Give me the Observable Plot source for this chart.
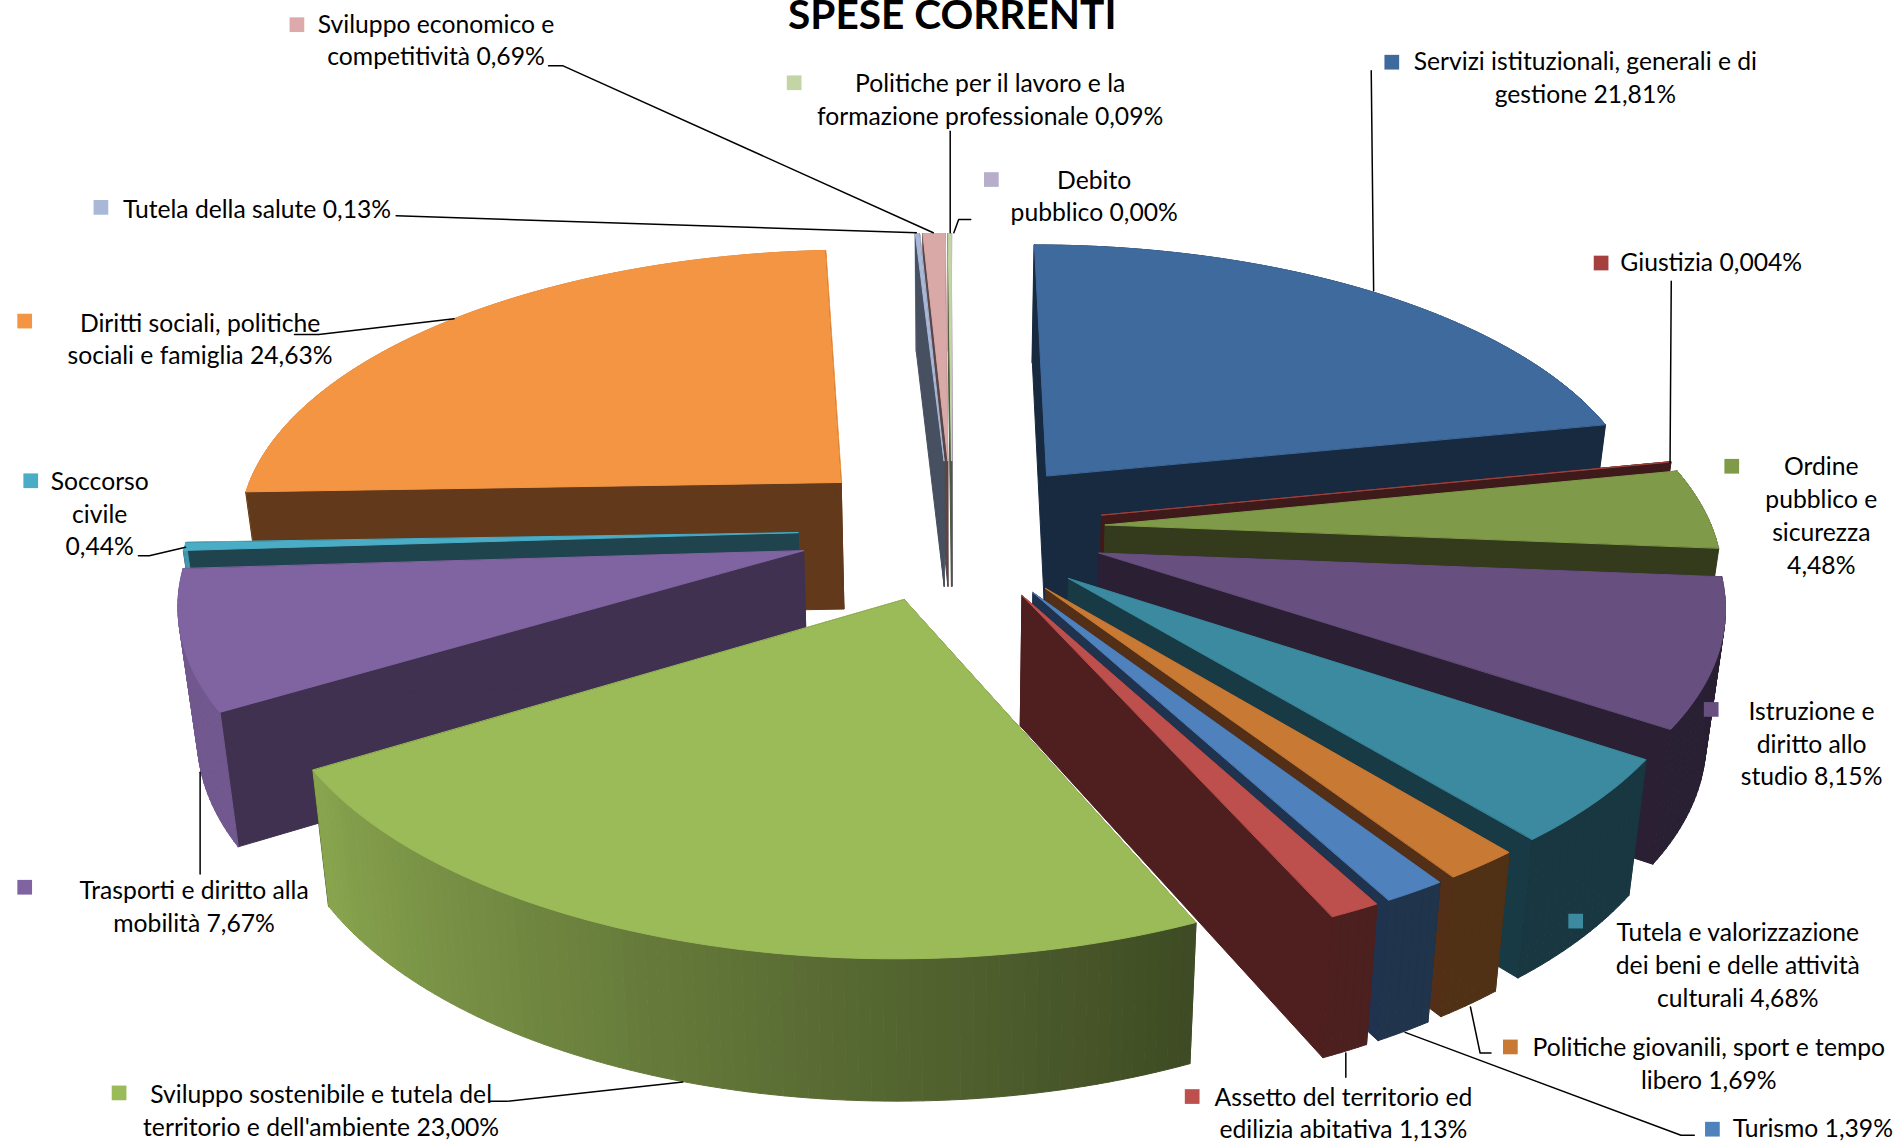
<!DOCTYPE html>
<html lang="it">
<head>
<meta charset="utf-8">
<title>Spese correnti</title>
<script src="https://cdn.jsdelivr.net/npm/d3@7"></script>
<script src="https://cdn.jsdelivr.net/npm/@observablehq/plot@0.6"></script>
<style>
html,body{margin:0;padding:0;background:#fff;overflow:hidden}
svg{display:block}
</style>
</head>
<body>
<div id="chart"></div>
<script>
// ---- data (shares, per cent, clockwise from 12 o'clock)
const categories = ["Servizi istituzionali, generali e di gestione","Giustizia","Ordine pubblico e sicurezza","Istruzione e diritto allo studio","Tutela e valorizzazione dei beni e delle attività culturali","Politiche giovanili, sport e tempo libero","Turismo","Assetto del territorio ed edilizia abitativa","Sviluppo sostenibile e tutela del territorio e dell'ambiente","Trasporti e diritto alla mobilità","Soccorso civile","Diritti sociali, politiche sociali e famiglia","Tutela della salute","Sviluppo economico e competitività","Politiche per il lavoro e la formazione professionale","Debito pubblico"];
const shares = [21.81,0.004,4.48,8.15,4.68,1.69,1.39,1.13,23.00,7.67,0.44,24.63,0.13,0.69,0.09,0.00];
const colors = ["#3f6a9d","#9e413e","#7f9a48","#67507f","#3b8aa0","#c87a35","#4f81bd","#bd4f4d","#9bbb59","#8064a2","#4bacc6","#f39543","#a9b8d6","#d9a9a8","#c3d5a5","#b8aecb"];
const wallColors = ["#182a40","#3e1a1a","#343a1c","#2a1f33","#173a44","#522f16","#1f324e","#4f1e1f","#3f4c22","#403151","#1f444e","#63391c","#475060","#5a4646","#50583f","#4a4650"];
const keyColors = ["#3f6a9d","#a5403e","#7f9a48","#67507f","#3b8aa0","#c87a35","#4f81bd","#bd4f4d","#9bbb59","#8064a2","#4bacc6","#f39543","#a9b8d6","#dcaaaa","#c3d5a5","#b8aecb"];
const labelLines = [
 "Servizi istituzionali, generali e di\ngestione 21,81%","Giustizia 0,004%","Ordine\npubblico e\nsicurezza\n4,48%","Istruzione e\ndiritto allo\nstudio 8,15%",
 "Tutela e valorizzazione\ndei beni e delle attività\nculturali 4,68%","Politiche giovanili, sport e tempo\nlibero 1,69%","Turismo 1,39%","Assetto del territorio ed\nedilizia abitativa 1,13%",
 "Sviluppo sostenibile e tutela del\nterritorio e dell'ambiente 23,00%","Trasporti e diritto alla\nmobilità 7,67%","Soccorso\ncivile\n0,44%","Diritti sociali, politiche\nsociali e famiglia 24,63%",
 "Tutela della salute 0,13%","Sviluppo economico e\ncompetitività 0,69%","Politiche per il lavoro e la\nformazione professionale 0,09%","Debito\npubblico 0,00%"];

// ---- label layout (in the 1568×944 frame of the scales)
const labelX = [1310,1414,1505,1497,1436,1412,1498,1110,265,160,82,165,212,360,818,904];
const labelY = [49,215,384,586,769,864,931,905,903,734,396,265,171,18,67,147];
const keyX = [1150,1323,1431,1414,1302,1248,1415,985,98,20,25,20,83,245,656,819];
const keyY = [51,217,385,586,761,865,933,906,903,733,397,265,171,20,68,148];
const leaders = [
 [[1133,58],[1135,240]],[[1381,232],[1380,382]],[],[],[],
 [[1215,832],[1223,870],[1232,870]],[[1161,853],[1389,938],[1400,938]],[[1112,870],[1112,890]],
 [[405,910],[418,910],[564,894]],[[165,638],[165,722]],[[114,459],[123,459],[153,452]],[[243,276],[263,276],[375,263]],
 [[327,178],[757,192]],[[453,54],[465,54],[771,192]],[[785,108],[785,192]],[[802,181],[792,181],[788,192]]];

// ---- view model of the exploded perspective pie
const view = {cx:786.5, cy:437, a:519, b:240, k:0.157, radius:0.967, explode:0.245, depth:106, taper:0.975};
function project(X, Y, bottom) {
  const w = 1 + view.k * Y;
  const sx = view.a * X / w, sy = view.cy - view.b * Y / w;
  return bottom ? [view.cx + sx * view.taper, sy + view.depth / Math.sqrt(w)] : [view.cx + sx, sy];
}
const mix = (c, f) => { const r = d3.rgb(c); return d3.rgb(r.r*f, r.g*f, r.b*f).formatHex(); };
const wallShade = th => th >= 238 ? 0.88 : th <= 156 ? 0.40 : 0.40 + 0.48 * (th - 156) / 82;
const rad = d => d * Math.PI / 180;

let cum = 0;
const slices = shares.map((v, i) => {
  const t0 = cum / 100 * 360; cum += v; const t1 = cum / 100 * 360;
  const mid = rad((t0 + t1) / 2);
  return {i, t0, t1, ox: view.explode * Math.sin(mid), oy: view.explode * Math.cos(mid)};
});

const polys = []; let pid = 0;
function poly(pts, color) { pid++; for (const p of pts) polys.push({id: pid, x: p[0], y: p[1], color}); }
// farthest slices painted first
for (const s of [...slices].sort((a, b) => b.oy - a.oy)) {
  const c = colors[s.i];
  const n = Math.max(1, Math.ceil(s.t1 - s.t0));
  const ths = d3.range(n + 1).map(j => s.t0 + (s.t1 - s.t0) * j / n);
  const at = (th, b) => project(s.ox + view.radius * Math.sin(rad(th)), s.oy + view.radius * Math.cos(rad(th)), b);
  const ap = b => project(s.ox, s.oy, b);
  const outer = () => { for (let j = 0; j < n; j++) {
    poly([at(ths[j],false), at(ths[j+1],false), at(ths[j+1],true), at(ths[j],true)],
         mix(c, wallShade((ths[j] + ths[j+1]) / 2)));
  } };
  const radial = () => {
    poly([at(s.t0,false), ap(false), ap(true), at(s.t0,true)], wallColors[s.i]);
    poly([at(s.t1,false), ap(false), ap(true), at(s.t1,true)], wallColors[s.i]);
  };
  // a slice on the near side shows its rim in front of its cut faces, a far one the reverse
  if (s.oy < 0) { radial(); outer(); } else { outer(); radial(); }
  poly([ap(false), ...ths.map(t => at(t,false))], c);
}

const labelRows = labelLines.map((t, i) => ({t, x: labelX[i], y: labelY[i] + (t.split("\n").length - 1) * 27 / 2}));
const keyRows = keyX.map((x, i) => ({x, y: keyY[i], c: keyColors[i]}));
const leaderRows = leaders.flatMap((l, i) => l.map(p => ({i, x: p[0], y: p[1]})));

const font = "Lato, Carlito, Calibri, sans-serif";
const fs = 24.7;
const chart = Plot.plot({
  width: 1897, height: 1142, margin: 0,
  x: {domain: [0, 1568], range: [0, 1897], axis: null},
  y: {domain: [0, 944], range: [0, 1142], axis: null},
  color: {type: "identity"},
  style: {background: "#fff", overflow: "hidden"},
  marks: [
    Plot.line(polys, {x: "x", y: "y", z: "id", fill: "color", stroke: "color", strokeWidth: 1, curve: "linear-closed"}),
    Plot.line(leaderRows, {x: "x", y: "y", z: "i", stroke: "#000", strokeWidth: 1.5, curve: "linear"}),
    Plot.dot(keyRows, {x: "x", y: "y", fill: "c", symbol: "square", r: 8.3, stroke: null}),
    Plot.text(labelRows, {x: "x", y: "y", text: "t", fontFamily: font, fontSize: fs, lineHeight: 32.7/fs, textAnchor: "middle", lineAnchor: "middle", fill: "#000"}),
    Plot.text(["SPESE CORRENTI"], {x: [651], y: [13], text: d => d, fontFamily: font, fontWeight: 700, fontSize: 40.6, textAnchor: "start", lineAnchor: "middle", fill: "#000"})
  ]
});
document.getElementById("chart").append(chart);
</script>
</body>
</html>
